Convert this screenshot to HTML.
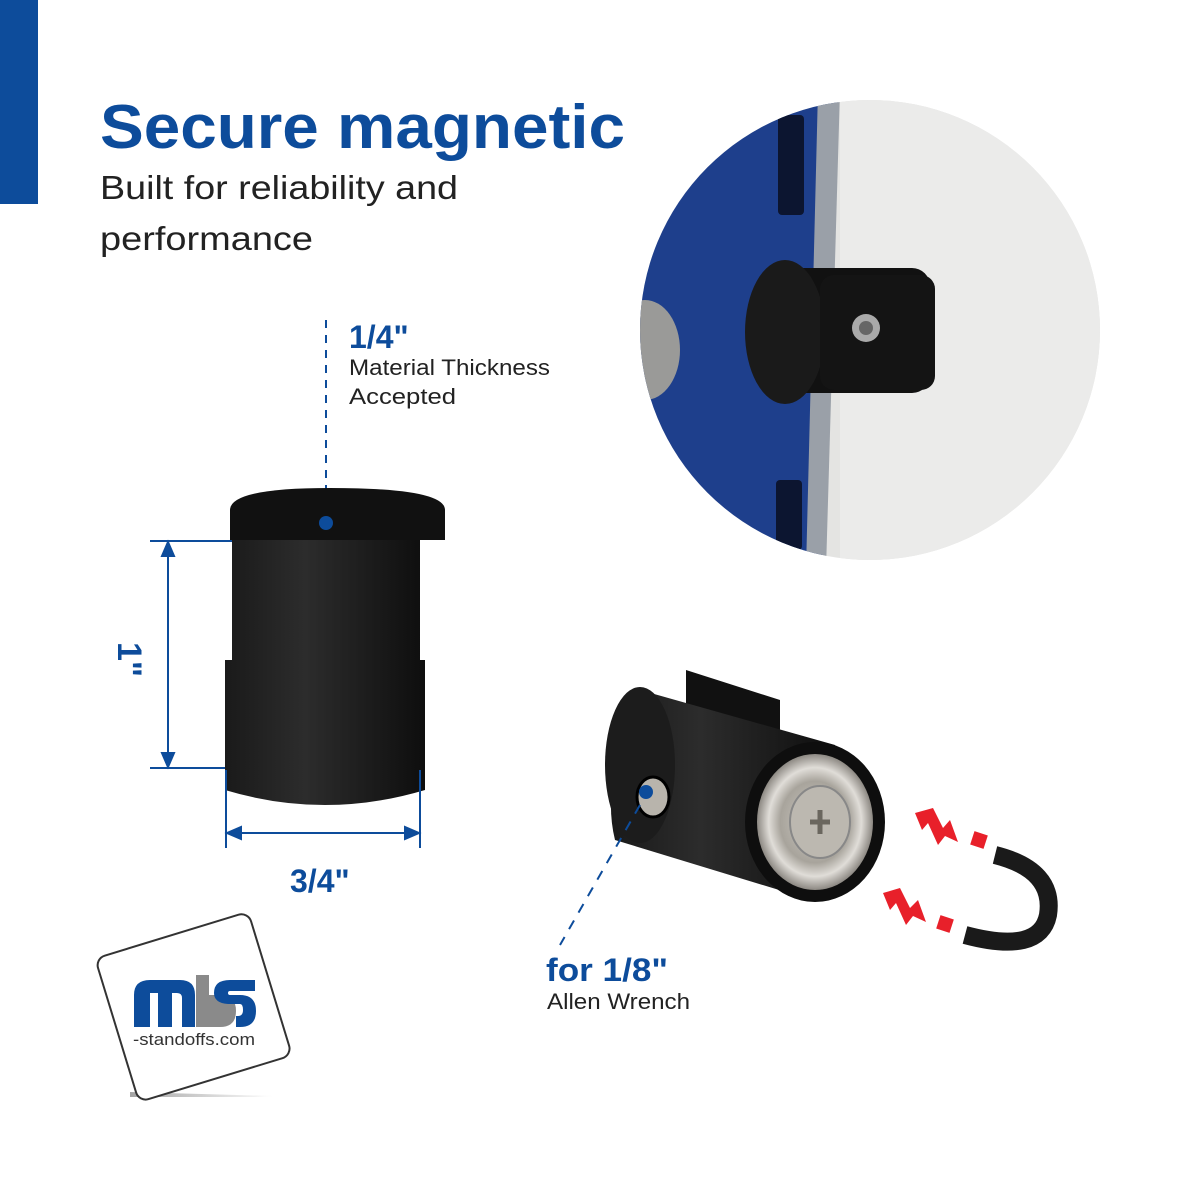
<!DOCTYPE html>
<html><head><meta charset="utf-8"><style>
html,body{margin:0;padding:0;background:#fff}
svg{display:block}
text{font-family:"Liberation Sans",sans-serif}
</style></head><body>
<svg width="1200" height="1200" viewBox="0 0 1200 1200" xmlns="http://www.w3.org/2000/svg">
<defs>
<clipPath id="cc"><circle cx="870" cy="330" r="230"/></clipPath>
<linearGradient id="blk" x1="0" x2="1"><stop offset="0" stop-color="#1a1a1a"/><stop offset="0.4" stop-color="#2c2c2c"/><stop offset="1" stop-color="#0e0e0e"/></linearGradient>
<radialGradient id="met"><stop offset="0" stop-color="#cfcbc4"/><stop offset="0.6" stop-color="#a8a49c"/><stop offset="0.8" stop-color="#e0ddd8"/><stop offset="1" stop-color="#8c8882"/></radialGradient>
<linearGradient id="sh" x1="0" x2="1"><stop offset="0" stop-color="#666"/><stop offset="1" stop-color="#fff"/></linearGradient>
</defs>
<rect x="0" y="0" width="38" height="204" fill="#0d4c9b"/>
<text x="100" y="148" font-size="62" font-weight="bold" fill="#0d4c9b" textLength="525" lengthAdjust="spacingAndGlyphs">Secure magnetic</text>
<text x="100" y="199" font-size="33" fill="#222" textLength="358" lengthAdjust="spacingAndGlyphs">Built for reliability and</text>
<text x="100" y="250" font-size="33" fill="#222" textLength="213" lengthAdjust="spacingAndGlyphs">performance</text>

<g clip-path="url(#cc)">
<rect x="630" y="90" width="480" height="480" fill="#e4e4e2"/>
<rect x="840" y="90" width="270" height="480" fill="#ebebea"/>
<polygon points="630,90 838,90 822,570 630,570" fill="#1e3f8c"/>
<polygon points="818,90 840,90 826,570 806,570" fill="#9aa0a8"/>
<rect x="778" y="115" width="26" height="100" rx="4" fill="#0c1530"/>
<rect x="776" y="480" width="26" height="70" rx="4" fill="#0c1530"/>
<ellipse cx="645" cy="350" rx="35" ry="50" fill="#9a9a98"/>
<rect x="770" y="268" width="160" height="125" rx="18" fill="#111"/>
<ellipse cx="785" cy="332" rx="40" ry="72" fill="#1a1a1a"/>
<rect x="820" y="275" width="115" height="115" rx="14" fill="#141414"/>
<circle cx="866" cy="328" r="14" fill="#aaa"/>
<circle cx="866" cy="328" r="7" fill="#666"/>
</g>

<line x1="326" y1="320" x2="326" y2="520" stroke="#0d4c9b" stroke-width="2" stroke-dasharray="8,7"/>
<text x="349" y="348" font-size="32" font-weight="bold" fill="#0d4c9b">1/4"</text>
<text x="349" y="375" font-size="22" fill="#222" textLength="201" lengthAdjust="spacingAndGlyphs">Material Thickness</text>
<text x="349" y="404" font-size="22" fill="#222" textLength="107" lengthAdjust="spacingAndGlyphs">Accepted</text>
<path d="M230,510 Q230,488 330,488 Q445,488 445,510 L445,540 L230,540 Z" fill="#111"/>
<rect x="232" y="540" width="188" height="135" fill="url(#blk)"/>
<path d="M225,660 L232,660 L232,540 L420,540 L420,660 L425,660 L425,790 Q325,820 225,790 Z" fill="url(#blk)"/>
<circle cx="326" cy="523" r="7" fill="#0d4c9b"/>
<g stroke="#0d4c9b" stroke-width="2" fill="#0d4c9b">
<line x1="150" y1="541" x2="232" y2="541"/><line x1="150" y1="768" x2="225" y2="768"/>
<line x1="168" y1="545" x2="168" y2="764"/>
<polygon points="168,542 162,556 174,556"/><polygon points="168,767 162,753 174,753"/>
<line x1="226" y1="770" x2="226" y2="848"/><line x1="420" y1="770" x2="420" y2="848"/>
<line x1="230" y1="833" x2="416" y2="833"/>
<polygon points="227,833 241,827 241,839"/><polygon points="419,833 405,827 405,839"/>
</g>
<text transform="translate(118,642) rotate(90)" font-size="34" font-weight="bold" fill="#0d4c9b">1"</text>
<text x="290" y="892" font-size="32" font-weight="bold" fill="#0d4c9b">3/4"</text>

<polygon points="686,670 780,700 780,760 686,730" fill="#111"/>
<path d="M640,690 L835,745 L812,900 L615,840 Q600,780 640,690 Z" fill="url(#blk)"/>
<ellipse cx="640" cy="765" rx="35" ry="78" fill="#1c1c1c"/>
<ellipse cx="815" cy="822" rx="70" ry="80" fill="#0e0e0e"/>
<ellipse cx="815" cy="822" rx="58" ry="68" fill="url(#met)"/>
<ellipse cx="820" cy="822" rx="30" ry="36" fill="#bcb8b0" stroke="#888" stroke-width="2"/>
<path d="M810,822 h20 M820,810 v24" stroke="#6a665e" stroke-width="5"/>
<ellipse cx="653" cy="797" rx="16" ry="20" fill="#b8b4ac" stroke="#000" stroke-width="3"/>
<circle cx="646" cy="792" r="7" fill="#0d4c9b"/>
<line x1="640" y1="805" x2="560" y2="945" stroke="#0d4c9b" stroke-width="2" stroke-dasharray="10,9"/>
<text x="546" y="981" font-size="32" font-weight="bold" fill="#0d4c9b" textLength="122" lengthAdjust="spacingAndGlyphs">for 1/8"</text>
<text x="547" y="1009" font-size="22" fill="#222" textLength="143" lengthAdjust="spacingAndGlyphs">Allen Wrench</text>

<path d="M995,855 Q1055,870 1048,915 Q1040,955 965,935" fill="none" stroke="#1a1a1a" stroke-width="18"/>
<g fill="#e8202a">
<polygon points="915,813 933,808 943,828 950,820 958,842 945,836 938,845 928,823 922,830"/>
<polygon points="883,893 900,888 910,908 918,900 926,922 913,916 906,925 896,903 890,910"/>
<rect x="972" y="833" width="14" height="14" transform="rotate(18 979 840)"/>
<rect x="938" y="917" width="14" height="14" transform="rotate(18 945 924)"/>
</g>

<polygon points="130,1092 275,1096 255,1097 130,1097" fill="url(#sh)" opacity="0.6"/>
<g transform="rotate(-17 193 1005)">
<rect x="113" y="932" width="160" height="150" rx="10" fill="#fff" stroke="#333" stroke-width="2"/>
</g>
<path d="M134,1027 V995 Q134,980 150,980 H180 Q195,980 195,995 V1027 H182 V998 Q182,993 177,993 H172 V1027 H158 V993 H150 V1027 Z" fill="#0d4c9b"/>
<path d="M196,1027 V975 H209 V995 H220 Q236,995 236,1011 Q236,1027 220,1027 Z" fill="#8a8a8a"/>
<path d="M255,980 H230 Q214,980 214,993 Q214,1003 228,1004 H240 Q243,1004 243,1010 Q243,1016 238,1016 H236 V1027 H240 Q256,1027 256,1011 Q256,995 240,995 H230 Q228,995 228,993 Q228,991 230,991 H255 Z" fill="#0d4c9b"/>
<text x="133" y="1045" font-size="17" fill="#333" textLength="122" lengthAdjust="spacingAndGlyphs">-standoffs.com</text>
</svg>
</body></html>
